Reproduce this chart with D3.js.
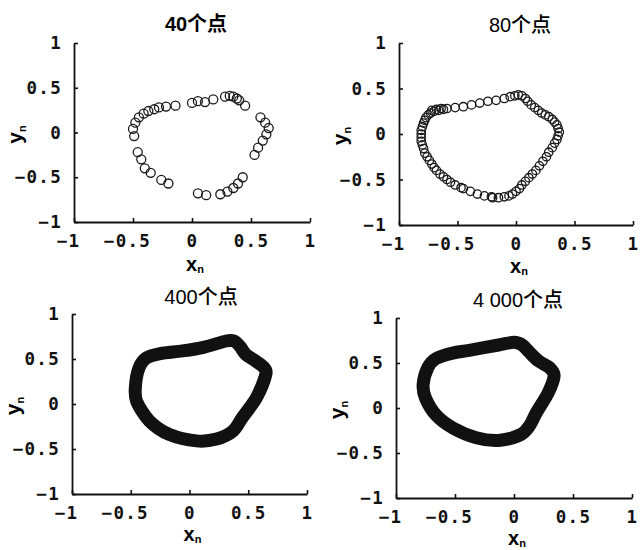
<!DOCTYPE html>
<html>
<head>
<meta charset="utf-8">
<script src="https://cdn.jsdelivr.net/npm/d3@7"></script>
<style>
  html, body { margin: 0; padding: 0; background: #fff; }
  svg { display: block; }
</style>
</head>
<body>
<svg id="chart" width="641" height="550"></svg>
<script>
// Panel titles and shared axis ticks
const titles = ["40个点", "80个点", "400个点", "4 000个点"];
const tickValues = [-1, -0.5, 0, 0.5, 1];
const tickLabels = ["\u22121", "\u22120.5", "0", "0.5", "1"];

// 40 sampled points (xn, yn)
const pts40 = [
  [-0.14, 0.30], [0.00, 0.33], [0.05, 0.35], [0.11, 0.34], [0.18, 0.37],
  [0.28, 0.40], [0.32, 0.41], [0.35, 0.40], [0.38, 0.38], [0.40, 0.36],
  [0.45, 0.30], [-0.22, 0.29], [-0.28, 0.28], [-0.32, 0.26], [-0.37, 0.24],
  [-0.41, 0.21], [-0.45, 0.17], [-0.48, 0.11], [-0.50, 0.04], [-0.49, -0.04],
  [-0.46, -0.22], [-0.43, -0.30], [-0.40, -0.40], [-0.35, -0.45], [-0.26, -0.53],
  [-0.20, -0.57], [0.05, -0.68], [0.12, -0.70], [0.24, -0.69], [0.30, -0.66],
  [0.35, -0.62], [0.39, -0.57], [0.43, -0.50], [0.53, -0.25], [0.56, -0.17],
  [0.60, -0.09], [0.63, -0.02], [0.65, 0.05], [0.62, 0.11], [0.58, 0.17]
];

// 80 sampled points (xn, yn)
const pts80 = [
  [-0.72, 0.26], [-0.68, 0.27], [-0.64, 0.28], [-0.59, 0.28], [-0.52, 0.29],
  [-0.45, 0.30], [-0.38, 0.32], [-0.31, 0.34], [-0.24, 0.36], [-0.17, 0.37],
  [-0.10, 0.39], [-0.05, 0.41], [-0.01, 0.42], [0.02, 0.43], [0.05, 0.42],
  [0.08, 0.39], [0.10, 0.36], [0.13, 0.32], [0.16, 0.29], [0.19, 0.26],
  [0.22, 0.23], [0.25, 0.21], [0.28, 0.19], [0.31, 0.16], [0.33, 0.13],
  [0.35, 0.10], [0.36, 0.06], [0.37, 0.02], [0.36, -0.02], [0.35, -0.06],
  [0.33, -0.10], [0.31, -0.15], [0.28, -0.20], [0.26, -0.25], [0.23, -0.30],
  [0.20, -0.35], [0.17, -0.40], [0.14, -0.44], [0.11, -0.48], [0.08, -0.52],
  [0.05, -0.56], [0.03, -0.60], [0.00, -0.63], [-0.03, -0.66], [-0.06, -0.68],
  [-0.10, -0.69], [-0.15, -0.70], [-0.20, -0.70], [-0.21, -0.69], [-0.27, -0.68],
  [-0.33, -0.66], [-0.39, -0.63], [-0.45, -0.60], [-0.47, -0.59], [-0.52, -0.56],
  [-0.56, -0.53], [-0.59, -0.50], [-0.62, -0.47], [-0.65, -0.44], [-0.68, -0.40],
  [-0.70, -0.37], [-0.72, -0.33], [-0.74, -0.29], [-0.76, -0.25], [-0.78, -0.21],
  [-0.79, -0.16], [-0.80, -0.12], [-0.81, -0.08], [-0.81, -0.04], [-0.81, 0.00],
  [-0.81, 0.04], [-0.80, 0.08], [-0.79, 0.12], [-0.78, 0.15], [-0.77, 0.18],
  [-0.75, 0.21], [-0.73, 0.23], [-0.70, 0.25], [-0.66, 0.26], [-0.62, 0.27]
];

// Outline traced by the dense 400-point cloud (centre line of the band)
const band400 = [
  [-0.46, 0.20], [-0.43, 0.40], [-0.37, 0.51], [-0.25, 0.56], [-0.06, 0.59],
  [0.12, 0.63], [0.31, 0.70], [0.38, 0.70], [0.43, 0.64], [0.48, 0.55],
  [0.56, 0.48], [0.63, 0.41], [0.65, 0.33], [0.57, 0.07], [0.45, -0.15],
  [0.37, -0.30], [0.23, -0.39], [0.06, -0.41], [-0.17, -0.34], [-0.34, -0.19],
  [-0.45, 0.03]
];

// Outline traced by the dense 4000-point cloud
const band4000 = [
  [-0.77, 0.26], [-0.73, 0.45], [-0.66, 0.55], [-0.52, 0.61], [-0.38, 0.64],
  [-0.13, 0.70], [0.00, 0.73], [0.07, 0.70], [0.13, 0.62], [0.21, 0.52],
  [0.30, 0.45], [0.34, 0.36], [0.29, 0.17], [0.19, -0.05], [0.13, -0.20],
  [0.05, -0.30], [-0.13, -0.36], [-0.32, -0.33], [-0.52, -0.22], [-0.66, -0.08],
  [-0.75, 0.11]
];

const svg = d3.select("#chart");

const panels = [
  { title: titles[0], left: 74,  top: 43,  w: 236, h: 179, tx: 196, ty: 31,  weight: 700, xlab: 49, pts: pts40, r: 4.5 },
  { title: titles[1], left: 399, top: 43,  w: 234, h: 182, tx: 520, ty: 32,  weight: 500, xlab: 48, pts: pts80, r: 4.2 },
  { title: titles[2], left: 72,  top: 314, w: 235, h: 180, tx: 201, ty: 304, weight: 500, xlab: 47, band: band400 },
  { title: titles[3], left: 396, top: 318, w: 236, h: 180, tx: 518, ty: 307, weight: 500, xlab: 47, band: band4000 }
];

const tickFont = "'DejaVu Sans Mono', monospace";
const labelFont = "'Liberation Sans', Arial, sans-serif";

panels.forEach(p => {
  const x = d3.scaleLinear().domain([-1, 1]).range([p.left, p.left + p.w]);
  const y = d3.scaleLinear().domain([-1, 1]).range([p.top + p.h, p.top]);
  const g = svg.append("g");

  // title
  g.append("text")
    .attr("x", p.tx).attr("y", p.ty)
    .attr("text-anchor", "middle")
    .attr("font-family", "'Liberation Sans', 'Noto Sans CJK SC', sans-serif")
    .attr("font-size", 20)
    .attr("font-weight", p.weight)
    .text(p.title);

  // axes with inward ticks
  const xAxis = d3.axisBottom(x).tickValues(tickValues).tickSize(-4).tickSizeOuter(0)
    .tickFormat((d, i) => tickLabels[i]).tickPadding(9);
  const yAxis = d3.axisLeft(y).tickValues(tickValues).tickSize(-4).tickSizeOuter(0)
    .tickFormat((d, i) => tickLabels[i]).tickPadding(12);

  const gx = g.append("g").attr("transform", `translate(0,${p.top + p.h})`).call(xAxis);
  const gy = g.append("g").attr("transform", `translate(${p.left},0)`).call(yAxis);

  [gx, gy].forEach(a => {
    a.select(".domain").attr("stroke", "#111").attr("stroke-width", 1.8);
    a.selectAll(".tick line").attr("stroke", "#111").attr("stroke-width", 1.6);
    a.selectAll(".tick text")
      .attr("fill", "#111")
      .attr("font-family", tickFont)
      .attr("font-weight", "bold")
      .attr("font-size", 17.5)
      .attr("letter-spacing", 1.3);
  });
  // negative x labels hang their minus sign to the left of the tick
  gx.selectAll(".tick text").attr("dx", d => d < 0 ? -6 : 0).attr("dy", "0.9em");

  // axis titles
  const xl = g.append("text")
    .attr("x", x(0) + 3).attr("y", p.top + p.h + p.xlab)
    .attr("text-anchor", "middle")
    .attr("font-family", labelFont).attr("font-weight", "bold").attr("font-size", 20);
  xl.append("tspan").text("x");
  xl.append("tspan").attr("dy", 2).attr("font-size", 11).text("n");

  const yl = g.append("text")
    .attr("transform", `translate(${p.left - 52},${y(0) + 2}) rotate(-90)`)
    .attr("text-anchor", "middle")
    .attr("font-family", labelFont).attr("font-weight", "bold").attr("font-size", 21);
  yl.append("tspan").text("y");
  yl.append("tspan").attr("dy", 4).attr("font-size", 11).text("n");

  // data
  if (p.pts) {
    g.append("g").selectAll("circle").data(p.pts).join("circle")
      .attr("cx", d => x(d[0])).attr("cy", d => y(d[1]))
      .attr("r", p.r)
      .attr("fill", "none")
      .attr("stroke", "#1a1a1a")
      .attr("stroke-width", 1.3);
  } else {
    const line = d3.line().x(d => x(d[0])).y(d => y(d[1])).curve(d3.curveCardinalClosed.tension(0.1));
    g.append("path").datum(p.band)
      .attr("d", line)
      .attr("fill", "none")
      .attr("stroke", "#111")
      .attr("stroke-width", 13)
      .attr("stroke-linejoin", "round");
  }
});
</script>
</body>
</html>
